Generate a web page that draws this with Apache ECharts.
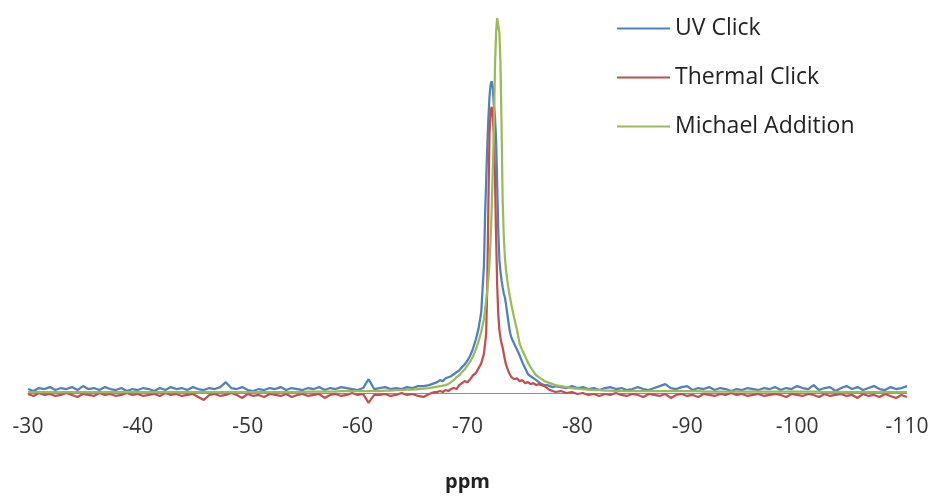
<!DOCTYPE html>
<html>
<head>
<meta charset="utf-8">
<script src="https://cdn.jsdelivr.net/npm/echarts@6/dist/echarts.min.js"></script>
<style>
  html, body { margin: 0; padding: 0; background: #fff; }
  #chart { width: 934px; height: 497px; }
</style>
</head>
<body>
<div id="chart"></div>
<script>
// Chemical shift (ppm) sample positions
const ppm = [
  -30,-30.5,-31,-31.5,-32,-32.5,-33,-33.5,-34,-34.5,
  -35,-35.5,-36,-36.5,-37,-37.5,-38,-38.5,-39,-39.5,
  -40,-40.5,-41,-41.5,-42,-42.5,-43,-43.5,-44,-44.5,
  -45,-45.5,-46,-46.5,-47,-47.5,-48,-48.5,-49,-49.5,
  -50,-50.5,-51,-51.5,-52,-52.5,-53,-53.5,-54,-54.5,
  -55,-55.5,-56,-56.5,-57,-57.5,-58,-58.5,-59,-59.5,
  -60,-60.5,-61,-61.5,-62,-62.5,-63,-63.5,-64,-64.5,
  -65,-65.5,-66,-66.5,-67,
  -67.25,-67.5,-67.75,-68,-68.25,-68.5,-68.75,-69,-69.25,-69.5,-69.75,-70,-70.25,-70.5,-70.75,-71,-71.25,-71.5,
  -71.6,-71.7,-71.8,-71.9,-72.0,-72.1,-72.2,-72.3,-72.4,-72.5,-72.6,-72.7,-72.8,-72.9,-73.0,-73.1,-73.2,-73.3,-73.4,-73.5,-73.6,-73.7,-73.8,-73.9,
  -74,-74.25,-74.5,-74.75,-75,-75.25,-75.5,-75.75,-76,-76.25,-76.5,-76.75,-77,-77.25,-77.5,-77.75,-78,
  -78.5,-79,-79.5,
  -80,-80.5,-81,-81.5,-82,-82.5,-83,-83.5,-84,-84.5,
  -85,-85.5,-86,-86.5,-87,-87.5,-88,-88.5,-89,-89.5,
  -90,-90.5,-91,-91.5,-92,-92.5,-93,-93.5,-94,-94.5,
  -95,-95.5,-96,-96.5,-97,-97.5,-98,-98.5,-99,-99.5,
  -100,-100.5,-101,-101.5,-102,-102.5,-103,-103.5,-104,-104.5,
  -105,-105.5,-106,-106.5,-107,-107.5,-108,-108.5,-109,-109.5,
  -110
];

const uvClick = [
  4,2,5,4,6,3,5,4,6,3,
  7,4,5,3,6,4,3,5,2,4,
  3,5,4,2,5,3,6,4,5,3,
  6,4,3,5,4,6,11,5,4,6,
  3,2,4,3,5,4,6,3,5,4,
  3,5,4,6,3,5,4,6,5,4,
  3,5,14,4,5,6,4,5,4,6,
  5,7,7,8,10,
  11,13,12,15,16,17,19,21,23,26,29,33,38,45,54,65,82,130,
  180,215,250,278,300,312,316,310,292,280,258,212,165,135,123,114,107,101,97,90,82,74,66,60,
  56,50,44,38,31,25,19,17,15,13,11,9,8,8,7,6,7,
  6,5,7,
  5,6,4,5,3,5,6,4,5,3,
  4,6,4,3,5,7,9,5,4,6,
  7,3,5,4,6,3,5,4,2,4,
  3,5,4,3,5,4,6,3,5,4,
  7,5,4,8,3,5,6,2,5,7,
  4,6,3,5,7,4,3,6,4,5,
  7
];

const thermalClick = [
  -1,-3,0,-2,-1,-3,-2,0,-2,-4,
  -1,-2,-3,0,-2,-1,-3,-2,0,-2,
  -1,-3,-2,-1,-3,0,-2,-1,-3,-2,
  -1,-4,-7,-2,-1,-3,-2,0,-2,-5,
  -1,-3,-2,-4,-1,-2,-3,-1,-4,-2,
  -1,-3,-2,-1,-5,-2,-1,-3,-2,0,
  -2,-1,-10,-2,-2,-1,-3,-2,0,-2,
  -1,-3,-4,-1,1,
  1,2,1,3,2,4,5,4,8,10,12,11,14,18,20,25,30,40,
  50,60,110,190,262,285,290,280,262,220,160,110,80,64,56,50,46,40,34,29,26,23,20,18,
  16,14,15,12,13,10,11,9,10,8,9,8,7,5,3,2,1,
  2,0,1,
  -1,0,-2,-1,-3,-1,-2,0,-2,-3,
  -1,-2,-4,-1,-2,-3,-1,-5,-2,-1,
  -3,-2,-4,-1,-2,-3,-1,-2,0,-2,
  -1,-3,-2,-1,-3,-2,-1,-2,-4,-1,
  -2,-3,-1,-2,-4,-1,-3,-2,-1,-3,
  -2,-5,-1,-3,-2,-4,-1,-3,-5,-2,
  -4
];

const michaelAddition = [
  1,1,1,1,1,1,1,1,1,1,
  1,1,1,1,1,1,1,1,1,1,
  1,1,1,1,1,1,1,1,1,1,
  1,1,1,1,1,1,1,1,1,1,
  1,1,1,1,1,1,1,1,1,1,
  1,1.5,1.5,1.5,1.5,1.5,1.5,2,2,2,
  2,2,2,2,2,2.5,2.5,3,3,3.5,
  3.5,4,4.5,5,6,
  6.5,7,7.5,8,9,11,13,16,18,21,24,28,32,37,44,52,62,75,
  84,94,104,116,132,155,185,225,263,330,365,380,378,365,335,270,195,160,138,125,116,108,101,95,
  89,76,64,50,43,37,31,26,22,18,16,14,12,11,10,9,8,
  7,6,5,
  4.5,4,3.5,3,3,2.5,2.5,2,2,2,
  2,2,2,2,2,2,2,2,2,2,
  2,2,2,1.5,1.5,1.5,1.5,1.5,1.5,1.5,
  1.5,1.5,1.5,1.5,1.5,1.5,1.5,1.5,1.5,1.5,
  1.5,1.5,1.5,1.5,1.5,1,1,1,1,1,
  1,1,1,1,1,1,1,1,1,1,
  1
];

const seriesNames = ['UV Click', 'Thermal Click', 'Michael Addition'];
const seriesColors = ['#4F81BD', '#C0504D', '#9BBB59'];
const seriesValues = [uvClick, thermalClick, michaelAddition];

const chart = echarts.init(document.getElementById('chart'), null, { renderer: 'canvas' });

const option = {
  animation: false,
  backgroundColor: '#ffffff',
  grid: { left: 28, right: 27, top: 18, bottom: 99, containLabel: false },
  legend: {
    orient: 'vertical',
    left: 617,
    top: 17,
    padding: 0,
    itemWidth: 53,
    itemHeight: 14,
    itemGap: 26,
    icon: 'path://M0,6 L53,6 L53,8 L0,8 Z',
    textStyle: { fontFamily: 'Open Sans', fontSize: 23, color: '#222' },
    data: seriesNames.map((n, i) => ({ name: n, itemStyle: { color: seriesColors[i] } }))
  },
  xAxis: {
    type: 'value',
    min: -110,
    max: -30,
    interval: 10,
    inverse: true,
    name: 'ppm',
    nameLocation: 'middle',
    nameGap: 79,
    nameTextStyle: { fontFamily: 'Open Sans', fontSize: 20, fontWeight: 'bold', color: '#222' },
    axisLine: { onZero: false, lineStyle: { color: '#8c8c8c', width: 1 } },
    axisTick: { show: false },
    splitLine: { show: false },
    axisLabel: { fontFamily: 'Open Sans', fontSize: 21, color: '#333', margin: 24 }
  },
  yAxis: {
    type: 'value',
    min: 0,
    max: 380,
    show: false,
    splitLine: { show: false }
  },
  series: seriesNames.map((n, i) => ({
    name: n,
    type: 'line',
    symbol: 'none',
    clip: false,
    smooth: false,
    lineStyle: { color: seriesColors[i], width: 2.25 },
    itemStyle: { color: seriesColors[i] },
    data: ppm.map((x, k) => [x, seriesValues[i][k]])
  }))
};

chart.setOption(option);
</script>
</body>
</html>
